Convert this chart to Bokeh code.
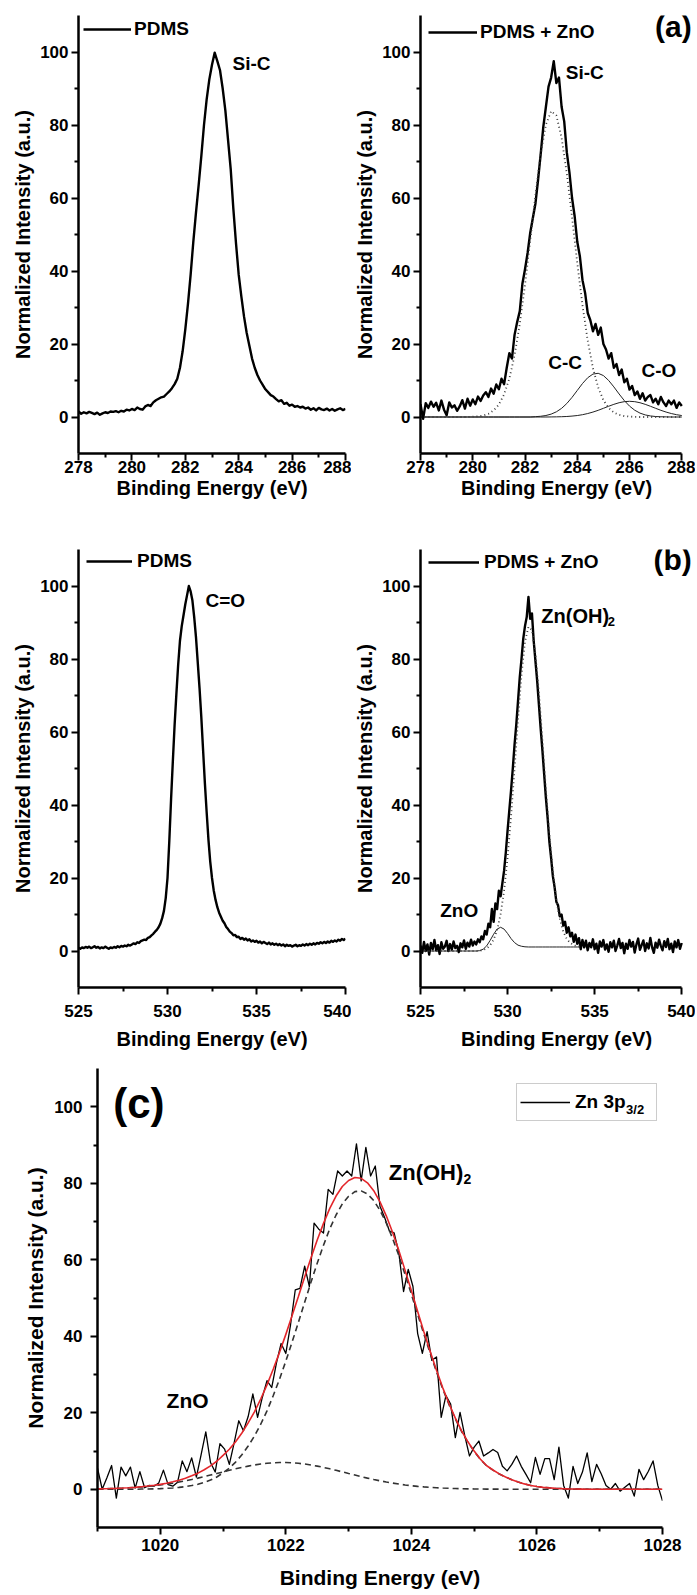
import numpy as np
from bokeh.plotting import figure
from bokeh.models import Range1d, FixedTicker, Label, Legend, LegendItem
from bokeh.layouts import column, row
from bokeh.embed import file_html
from bokeh.resources import INLINE

FONT = "Liberation Sans"

# ---------------- tick values ----------------
a_xticks = [278, 280, 282, 284, 286, 288]
a_xminor = [279, 281, 283, 285, 287]
b_xticks = [525, 530, 535, 540]
b_xminor = [527.5, 532.5, 537.5]
c_xticks = [1020, 1022, 1024, 1026, 1028]
c_xminor = [1019, 1021, 1023, 1025, 1027]
y_ticks = [0, 20, 40, 60, 80, 100]
y_minor = [10, 30, 50, 70, 90]

# ---------------- (a) C-region, 278-288 eV, step 0.1 ----------------
a_pdms_y = [
    1.5, 0.9, 1.3, 1.0, 1.4, 1.1, 0.8, 1.2, 0.6, 1.0,
    1.3, 1.1, 1.5, 1.4, 1.6, 1.3, 1.7, 1.5, 2.0, 1.8,
    2.2, 1.9, 2.6, 2.2, 2.0, 2.9, 3.3, 3.0, 4.0, 4.6,
    5.0, 5.4, 5.6, 6.3, 7.0, 7.9, 9.0, 10.5, 13.5, 18.0,
    24.0, 31.0, 39.0, 48.0, 56.0, 63.5, 71.5, 80.0, 87.0, 92.5,
    96.5, 99.8, 97.5, 95.0, 90.0, 84.0, 76.0, 68.0, 57.0, 47.5,
    39.0, 33.0, 27.5, 23.0, 19.5, 16.0, 13.5, 11.5, 10.0, 8.8,
    7.6, 6.8, 6.0, 5.6, 4.9, 4.3, 4.6, 3.6, 3.9, 3.1,
    3.4, 2.8, 3.0, 2.6, 2.8, 2.3, 2.6, 2.0, 2.4, 1.8,
    2.5, 2.1, 1.9, 2.3, 1.8, 2.2, 1.7, 2.1, 2.4, 1.9,
    2.2]
a_zno_y = [
    3.5, -0.5, 3.8, 2.5, 4.2, 2.8, 3.9, 1.8, 4.5, 2.0,
    0.5, 4.0, 2.6, 3.2, 1.7, 2.9, 4.6, 2.3, 5.0, 3.1,
    4.8, 3.5, 5.6, 4.4, 5.9, 6.8, 5.5, 7.8, 6.4, 8.9,
    7.6, 10.5, 9.0, 13.5, 17.5, 16.0, 22.5, 26.0, 29.0, 36.5,
    40.5, 45.0, 50.5, 54.5, 58.5, 65.0, 72.0, 79.5, 85.0, 90.5,
    93.0, 97.5, 91.5, 93.0, 85.0, 81.0, 72.5, 67.0, 60.0, 55.0,
    48.0, 44.0, 37.5, 34.0, 28.5, 26.5, 23.5, 25.5, 22.5, 24.5,
    20.0, 18.5, 16.0, 17.5, 13.5, 14.5, 11.5, 13.0, 9.5, 10.5,
    7.5, 8.5, 6.0, 7.0, 5.0, 6.5, 4.5, 5.5, 6.0, 4.0,
    5.0, 3.5, 5.5, 4.0, 3.0, 4.5, 3.5, 4.5, 2.5, 4.0,
    3.0]
# fitted components, 278-288 eV, step 0.2
a_sic_fit = [
    0, 0, 0, 0, 0, 0, 0, 0, 0, 0,
    0.07, 0.17, 0.39, 0.86, 1.8, 3.4, 6.2, 10.5, 16.9, 25.5,
    36.2, 48.4, 60.8, 72.0, 80.1, 83.8, 82.6, 76.5, 66.7, 54.7,
    42.2, 30.6, 20.9, 13.4, 8.1, 4.6, 2.5, 1.2, 0.59, 0.26,
    0.11, 0.04, 0, 0, 0, 0, 0, 0, 0, 0,
    0]
a_cc_fit = [
    0, 0, 0, 0, 0, 0, 0, 0, 0, 0,
    0, 0, 0, 0, 0, 0, 0, 0, 0, 0,
    0, 0, 0.09, 0.20, 0.41, 0.79, 1.42, 2.37, 3.70, 5.38,
    7.28, 9.17, 10.76, 11.76, 11.97, 11.35, 10.02, 8.25, 6.31, 4.50,
    2.99, 1.85, 1.07, 0.57, 0.29, 0.13, 0.06, 0.03, 0, 0,
    0]
a_co_fit = [
    0, 0, 0, 0, 0, 0, 0, 0, 0, 0,
    0, 0, 0, 0, 0, 0, 0, 0, 0, 0,
    0, 0, 0, 0, 0, 0.02, 0.04, 0.08, 0.14, 0.25,
    0.40, 0.63, 0.95, 1.35, 1.83, 2.38, 2.94, 3.47, 3.91, 4.20,
    4.30, 4.20, 3.91, 3.47, 2.94, 2.38, 1.83, 1.35, 0.95, 0.63,
    0.40]

# ---------------- (b) O-region, 525-540 eV, step 0.1 ----------------
b_pdms_y = [
    0.9, 0.6, 1.0, 0.8, 1.1, 0.9, 1.2, 0.8, 1.0, 1.3,
    0.9, 1.1, 0.7, 1.0, 0.8, 1.2, 0.9, 0.6, 1.0, 0.8,
    1.1, 0.9, 1.3, 1.0, 1.4, 1.2, 1.5, 1.3, 1.7, 1.5,
    1.8, 2.1, 1.9, 2.4, 2.2, 2.7, 2.9, 3.1, 3.0, 3.6,
    3.8, 4.3, 4.7, 5.3, 5.8, 6.5, 7.5, 9.0, 11.0, 14.5,
    20.0, 30.0, 41.5, 52.0, 62.0, 70.5, 78.5, 85.0, 89.0, 92.0,
    95.0, 97.5, 100.0, 98.5, 96.0, 91.5, 86.0, 79.0, 72.0, 64.0,
    55.0, 46.0, 38.0, 30.5, 24.5, 20.0, 16.5, 14.0, 12.0, 10.5,
    9.4, 8.3, 7.6, 6.6, 6.0, 5.3, 4.9, 4.3, 4.4, 3.8,
    3.9, 3.3, 3.6, 3.1, 3.4, 2.9, 3.2, 2.6, 2.9, 2.5,
    2.8, 2.3, 2.6, 2.1, 2.5, 2.2, 1.9, 2.3, 1.8, 2.1,
    1.7, 2.0, 1.6, 1.9, 1.5, 1.8, 1.3, 1.7, 1.4, 1.6,
    1.2, 1.5, 1.7, 1.3, 1.6, 1.4, 1.8, 1.5, 1.9, 1.6,
    2.0, 1.7, 2.1, 1.8, 2.2, 2.0, 2.4, 2.1, 2.5, 2.2,
    2.6, 2.3, 2.8, 2.5, 2.9, 2.6, 3.1, 2.8, 3.3, 3.0,
    3.4]
b_zno_y = [
    1.5, -0.5, 2.5, 0.0, 1.8, -1.0, 2.2, 0.5, 3.0, 0.2,
    1.6, -0.8, 2.4, 0.6, 1.2, 2.8, 0.0, 1.9, 0.4, 2.6,
    0.8, 1.4, -0.3, 2.1, 1.0, 2.9, 0.6, 2.3, 1.2, 3.1,
    1.5, 2.6, 1.8, 3.2, 2.4, 4.0, 3.2, 5.5, 4.5, 7.5,
    6.5, 11.5, 8.0, 13.0, 11.5, 16.5, 15.0, 18.5, 22.0, 27.0,
    33.0, 38.5, 44.0, 50.0, 56.5, 62.0, 68.5, 75.0, 80.0, 85.5,
    89.0, 91.5, 97.0, 91.0, 92.5, 85.0, 79.5, 74.0, 67.5, 61.0,
    55.0, 48.5, 42.0, 36.5, 30.0, 25.5, 20.5, 17.5, 13.5, 12.5,
    9.5, 10.0, 7.0, 8.0, 5.0, 6.5, 4.0, 5.0, 2.5, 4.5,
    2.0, 3.5, 0.5, 3.0, 1.0, 2.8, 0.2, 2.2, 1.0, 3.2,
    0.5, 2.0, -0.5, 2.6, 1.2, 3.0, 0.4, 1.8, -0.2, 2.4,
    1.0, 2.8, 0.0, 1.5, 3.3, 0.8, 2.2, -0.6, 2.0, 0.6,
    3.0, 1.2, 2.5, -0.4, 1.8, 3.4, 0.3, 1.6, 2.9, 0.0,
    2.1, 0.7, 3.6, 1.0, -0.5, 2.3, 0.9, 3.1, 1.4, 0.2,
    2.7, 1.1, 3.3, 0.5, 2.0, -0.3, 2.6, 1.0, 3.0, 0.6,
    2.2]
# fitted components, 525-534.2 eV, step 0.2
b_znoh_fit = [
    0, 0, 0, 0, 0, 0, 0, 0, 0, 0,
    0, 0, 0, 0, 0, 0, 0, 0, 0.3, 0.7,
    1.6, 3.1, 5.7, 10.1, 16.5, 25.5, 36.9, 49.9, 63.5, 75.7,
    84.7, 88.8, 87.9, 81.4, 70.8, 57.7, 44.3, 32.0, 21.8, 14.1,
    8.8, 5.3, 3.3, 2.2, 1.6, 1.3, 1.2]
b_zno_fit = [
    0, 0, 0, 0, 0, 0, 0, 0, 0, 0,
    0, 0, 0, 0, 0, 0, 0, 0.1, 0.5, 1.4,
    2.9, 4.6, 6.0, 6.5, 6.0, 4.8, 3.4, 2.3, 1.6, 1.3,
    1.15, 1.1, 1.1, 1.1, 1.1, 1.1, 1.1, 1.1, 1.1, 1.1,
    1.1, 1.1, 1.1, 1.1, 1.1, 1.1, 1.1]

# ---------------- (c) Zn 3p3/2, 1019-1028 eV ----------------
c_data_y = [
    5.5, 0.0, 3.0, 6.2, -2.3, 5.8, 3.5, 5.8, 0.3, 4.6,
    0.4, 1.0, 0.8, 1.6, 5.0, 1.2, 0.8, 1.8, 7.4, 4.6,
    8.2, 3.2, 9.0, 15.0, 7.0, 4.5, 11.9, 10.5, 6.5, 12.0,
    17.9, 15.3, 19.0, 24.9, 18.8, 24.0, 28.4, 26.6, 33.0, 38.1,
    35.5, 43.0, 52.1, 52.5, 58.3, 53.0, 69.6, 68.0, 67.0, 78.4,
    77.1, 83.2, 81.9, 83.2, 81.9, 90.3, 80.6, 89.4, 81.9, 84.5,
    74.0, 71.0, 67.5, 67.0, 61.8, 51.7, 57.5, 53.0, 40.7, 35.5,
    41.2, 33.7, 34.6, 18.8, 24.5, 22.3, 13.5, 20.1, 14.0, 8.7,
    11.0, 12.6, 8.7, 9.5, 10.4, 9.6, 6.0, 4.8, 6.5, 8.7,
    6.0, 3.9, 1.7, 8.3, 3.9, 8.0, 8.0, 2.5, 11.0, 1.0,
    -2.3, 6.0, 1.5, 4.5, 9.5, 2.0, 6.5, 4.0, 1.0, 0.0,
    1.5, -0.5, 0.5, 1.5, -1.8, 5.2, 2.5, 4.7, 7.4, 1.0,
    -3.0]
# fit curves, step 0.1 eV
c_envelope = [
    0.11, 0.14, 0.18, 0.24, 0.31, 0.39, 0.49, 0.66, 0.83, 1.04,
    1.28, 1.58, 1.95, 2.37, 2.89, 3.51, 4.21, 5.10, 6.11, 7.32,
    8.84, 10.45, 12.44, 14.71, 17.35, 20.25, 23.6, 27.29, 31.42, 35.79,
    40.49, 45.42, 50.39, 55.5, 60.45, 65.15, 69.51, 73.44, 76.65, 79.14,
    80.72, 81.51, 81.3, 80.11, 78.05, 75.11, 71.49, 67.21, 62.45, 57.22,
    51.93, 46.46, 41.11, 35.99, 31.09, 26.51, 22.34, 18.58, 15.24, 12.41,
    9.98, 7.86, 6.14, 5.03, 4.02, 3.2, 2.5, 1.9, 1.4, 1.0,
    0.7, 0.5, 0.35, 0.25, 0.17, 0.1, 0.06, 0.03, 0, 0,
    0, 0, 0, 0, 0, 0, 0, 0, 0, 0,
    0]
c_znoh_fit = [
    0, 0, 0, 0, 0, 0, 0, 0.05, 0.07, 0.11,
    0.16, 0.23, 0.34, 0.48, 0.68, 0.96, 1.3, 1.8, 2.4, 3.2,
    4.3, 5.5, 7.1, 9.0, 11.3, 13.9, 17.0, 20.5, 24.5, 28.8,
    33.5, 38.5, 43.6, 48.9, 54.1, 59.1, 63.8, 68.1, 71.7, 74.6,
    76.6, 77.8, 78.0, 77.2, 75.5, 72.9, 69.6, 65.6, 61.1, 56.1,
    51.0, 45.7, 40.5, 35.5, 30.7, 26.2, 22.1, 18.4, 15.1, 12.3,
    9.9, 7.8, 6.1, 5.0, 4.0, 3.2, 2.5, 1.9, 1.4, 1.0,
    0.7, 0.5, 0.35, 0.25, 0.17, 0.1, 0.06, 0.03, 0, 0,
    0, 0, 0, 0, 0, 0, 0, 0, 0, 0,
    0]
c_zno_fit = [
    0.11, 0.14, 0.18, 0.24, 0.31, 0.39, 0.49, 0.61, 0.76, 0.93,
    1.12, 1.35, 1.61, 1.89, 2.21, 2.55, 2.91, 3.30, 3.71, 4.12,
    4.54, 4.95, 5.34, 5.71, 6.05, 6.35, 6.60, 6.79, 6.92, 6.99,
    6.99, 6.92, 6.79, 6.60, 6.35, 6.05, 5.71, 5.34, 4.95, 4.54,
    4.12, 3.71, 3.30, 2.91, 2.55, 2.21, 1.89, 1.61, 1.35, 1.12,
    0.93, 0.76, 0.61, 0.49, 0.39, 0.31, 0.24, 0.18, 0.14, 0.11,
    0.08, 0.06, 0.04, 0.03, 0.02, 0.01, 0, 0, 0, 0,
    0, 0, 0, 0, 0, 0, 0, 0, 0, 0,
    0, 0, 0, 0, 0, 0, 0, 0, 0, 0,
    0]


def grid(lo, hi, vals):
    return np.linspace(lo, hi, len(vals))


def make_fig(width, height, xr, xbounds, xticks, xminor, borders, xlab_standoff,
             xtitle_standoff, ylab_standoff, ytitle_standoff, title_px):
    bl, br, bt, bb = borders
    p = figure(width=width, height=height, x_range=Range1d(*xr),
               y_range=Range1d(-10, 110), output_backend="svg",
               toolbar_location=None, title=None,
               min_border_left=bl, min_border_right=br,
               min_border_top=bt, min_border_bottom=bb)
    p.xgrid.visible = False
    p.ygrid.visible = False
    p.outline_line_color = None
    p.background_fill_color = "white"
    p.border_fill_color = "white"
    p.xaxis[0].ticker = FixedTicker(ticks=xticks, minor_ticks=xminor)
    p.xaxis[0].bounds = xbounds
    p.yaxis[0].ticker = FixedTicker(ticks=y_ticks, minor_ticks=y_minor)
    p.xaxis.axis_label = "Binding Energy (eV)"
    p.yaxis.axis_label = "Normalized Intensity (a.u.)"
    for ax in (p.xaxis[0], p.yaxis[0]):
        ax.axis_line_width = 2.5
        ax.axis_line_color = "black"
        ax.major_tick_line_width = 2
        ax.minor_tick_line_width = 2
        ax.major_tick_line_color = "black"
        ax.minor_tick_line_color = "black"
        ax.major_tick_out = 7
        ax.major_tick_in = 0
        ax.minor_tick_out = 4
        ax.minor_tick_in = 0
        ax.major_label_text_font = FONT
        ax.major_label_text_font_size = "17px"
        ax.major_label_text_font_style = "bold"
        ax.major_label_text_color = "black"
        ax.axis_label_text_font = FONT
        ax.axis_label_text_font_size = title_px
        ax.axis_label_text_font_style = "bold"
        ax.axis_label_text_color = "black"
    p.xaxis[0].major_label_standoff = xlab_standoff
    p.xaxis[0].axis_label_standoff = xtitle_standoff
    p.yaxis[0].major_label_standoff = ylab_standoff
    p.yaxis[0].axis_label_standoff = ytitle_standoff
    return p


def add_label(p, x, y, text, size, align="left", level="annotation"):
    p.add_layout(Label(x=x, y=y, text=text, text_font=FONT,
                       text_font_size=size, text_font_style="bold",
                       text_color="black", text_align=align,
                       text_baseline="middle", level=level))


def add_plain_legend(p, renderer, text, loc, glyph_w, standoff):
    leg = Legend(items=[LegendItem(label=text, renderers=[renderer])],
                 location=loc, orientation="vertical", padding=0, margin=0,
                 spacing=0, glyph_width=glyph_w, glyph_height=22,
                 label_height=22, label_standoff=standoff,
                 label_text_font=FONT, label_text_font_size="19px",
                 label_text_font_style="bold", label_text_color="black",
                 border_line_color=None, background_fill_alpha=0)
    p.add_layout(leg)


DATA_W = 2.4
DOT_C = "#3a3a3a"

# ---------------- panel (a) left ----------------
p1 = make_fig(351, 542, (278, 288), (278, 288), a_xticks, a_xminor,
              (78, 6, 15, 89), 0, 1, 3, 3, "20px")
r = p1.line(grid(278, 288, a_pdms_y), a_pdms_y, line_color="black",
            line_width=DATA_W, line_join="round")
add_plain_legend(p1, r, "PDMS", (5, 413), 48, 3)
add_label(p1, 283.77, 96.9, "Si-C", "19px")

# ---------------- panel (a) right ----------------
p2 = make_fig(344, 542, (278, 288.41), (278, 288), a_xticks, a_xminor,
              (64, 3, 15, 89), 0, 1, 3, 3, "20px")
fx = grid(278, 288, a_sic_fit)
p2.line(fx, a_cc_fit, line_color="#222222", line_width=1)
p2.line(fx, a_co_fit, line_color="#222222", line_width=1)
r = p2.line(grid(278, 288, a_zno_y), a_zno_y, line_color="black",
            line_width=DATA_W, line_join="round")
p2.line(fx, a_sic_fit, line_color=DOT_C, line_width=1.8, line_dash="1 3")
add_plain_legend(p2, r, "PDMS + ZnO", (8, 410), 49, 3)
add_label(p2, 283.56, 94.4, "Si-C", "19px")
add_label(p2, 282.89, 14.9, "C-C", "19px")
add_label(p2, 286.46, 12.7, "C-O", "19px")
add_label(p2, 288.38, 107.0, "(a)", "30px", align="right")

# ---------------- panel (b) left ----------------
p3 = make_fig(351, 518, (525, 540), (525, 540), b_xticks, b_xminor,
              (78, 6, 7, 73), 10, 8, 3, 3, "20px")
r = p3.line(grid(525, 540, b_pdms_y), b_pdms_y, line_color="black",
            line_width=DATA_W, line_join="round")
add_plain_legend(p3, r, "PDMS", (8, 415), 46, 5)
add_label(p3, 532.13, 96.0, "C=O", "19px")

# ---------------- panel (b) right ----------------
p4 = make_fig(344, 518, (525, 540.62), (525, 540), b_xticks, b_xminor,
              (63, 3, 7, 73), 10, 8, 3, 3, "20px")
bx = grid(525, 534.2, b_znoh_fit)
p4.line(bx, b_zno_fit, line_color="#222222", line_width=1)
r = p4.line(grid(525, 540, b_zno_y), b_zno_y, line_color="black",
            line_width=DATA_W, line_join="round")
p4.line(bx, b_znoh_fit, line_color=DOT_C, line_width=1.8, line_dash="1 3")
add_plain_legend(p4, r, "PDMS + ZnO", (8, 414), 51, 5)
add_label(p4, 531.94, 91.9, "Zn(OH)", "20px")
add_label(p4, 535.76, 90.4, "2", "13px")
add_label(p4, 526.13, 11.1, "ZnO", "19px")
add_label(p4, 540.58, 107.3, "(b)", "30px", align="right")

# ---------------- panel (c) ----------------
p5 = make_fig(682, 535, (1019, 1028), (1019, 1028), c_xticks, c_xminor,
              (97, 20, 8, 68), 4, 12, 8, 4, "21px")
r = p5.line(grid(1019, 1028, c_data_y), c_data_y, line_color="black",
            line_width=1.3, line_join="round")
cx = grid(1019, 1028, c_envelope)
p5.line(cx, c_zno_fit, line_color="#333333", line_width=1.6, line_dash="6 4")
p5.line(cx, c_znoh_fit, line_color="#333333", line_width=1.6, line_dash="6 4")
p5.line(cx, c_envelope, line_color="#e3262b", line_width=1.6)
leg = Legend(items=[LegendItem(label="Zn 3p", renderers=[r])],
             location=(419, 406), padding=3, margin=0, spacing=0,
             glyph_width=50, glyph_height=30, label_height=30,
             label_width=78, label_standoff=5,
             label_text_font=FONT, label_text_font_size="19px",
             label_text_font_style="bold", label_text_color="black",
             border_line_color="#999999", border_line_width=1.5,
             background_fill_color="white", background_fill_alpha=0)
p5.add_layout(leg)
add_label(p5, 1027.42, 99.4, "3/2", "13px", level="overlay")
add_label(p5, 1023.64, 82.8, "Zn(OH)", "22px")
add_label(p5, 1024.83, 81.2, "2", "14px")
add_label(p5, 1020.1, 23.2, "ZnO", "21px")
add_label(p5, 1019.25, 100.8, "(c)", "42px")

layout = column(row(p1, p2), row(p3, p4), p5)
open("out.html", "w").write(file_html(layout, INLINE))
